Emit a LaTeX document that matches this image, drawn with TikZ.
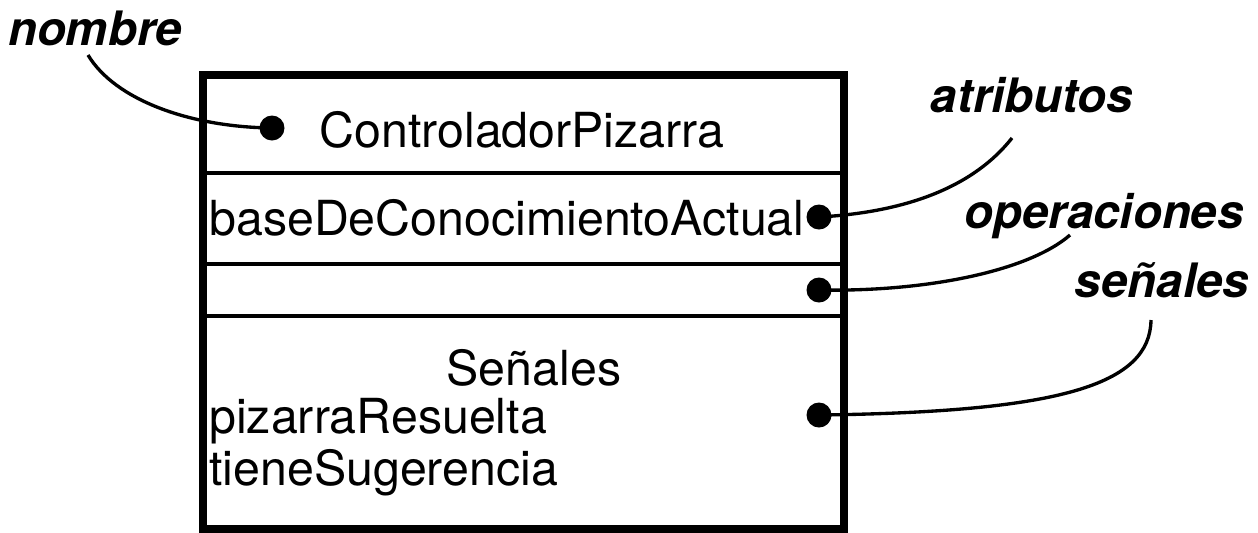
\documentclass[tikz,border=0pt]{standalone}
\usepackage{fontspec}
\setmainfont{TeX Gyre Heros}
\usetikzlibrary{positioning}

\begin{document}
\begin{tikzpicture}[x=0.02cm,y=-0.02cm,
  dot/.style={circle,fill,inner sep=0pt,minimum size=0.5cm},
  txt/.style={font=\fontsize{27.5}{32}\selectfont,inner sep=0pt},
  lbl/.style={font=\fontsize{27}{32}\selectfont\bfseries\itshape,inner sep=0pt,anchor=base},
  lead/.style={line width=1.9pt},
  sep/.style={line width=2.2pt}]
  \useasboundingbox (0,0) rectangle (1258,532);
  % class box with its compartments
  \coordinate (nw) at (203,75);
  \coordinate (se) at (844,529);
  \draw[sep] (203,173) -- (844,173);
  \draw[sep] (203,264) -- (844,264);
  \draw[sep] (203,316) -- (844,316);
  \draw[line width=4pt] (nw) rectangle (se);
  \node[txt] (name) at (522,130) {ControladorPizarra};
  \node[txt,anchor=west] (attr) at (209,218) {baseDeConocimientoActual};
  \node[txt] (sigtitle) at (534,368) {Señales};
  \node[txt,anchor=west] (sig1) at (209,421) {pizarraResuelta};
  \node[txt,anchor=west] (sig2) at (209,473) {tieneSugerencia};
  % dots
  \node[dot] (dname) at (272,128) {};
  \node[dot] (dattr) at (819,217) {};
  \node[dot] (dop) at (819,290) {};
  \node[dot] (dsig) at (819,415) {};
  % labels
  \node[lbl] (lnombre) at (95,45) {nombre};
  \node[lbl] (latrib) at (1032,112) {atributos};
  \node[lbl] (lop) at (1104,228) {operaciones};
  \node[lbl] (lsen) at (1162,297) {señales};
  % leader ends under the labels
  \coordinate (enombre) at (88,55);
  \coordinate (eatrib) at (1012,138);
  \coordinate (eop) at (1070,235);
  \coordinate (esen) at (1151,320);
  % leaders
  \draw[lead] (enombre) .. controls (115,100) and (190,127) .. (dname.center);
  \draw[lead] (eatrib) .. controls (975,185) and (910,212) .. (dattr.center);
  \draw[lead] (eop) .. controls (1030,270) and (930,292) .. (dop.center);
  \draw[lead] (esen) .. controls (1150,385) and (1060,412) .. (dsig.center);
\end{tikzpicture}
\end{document}
